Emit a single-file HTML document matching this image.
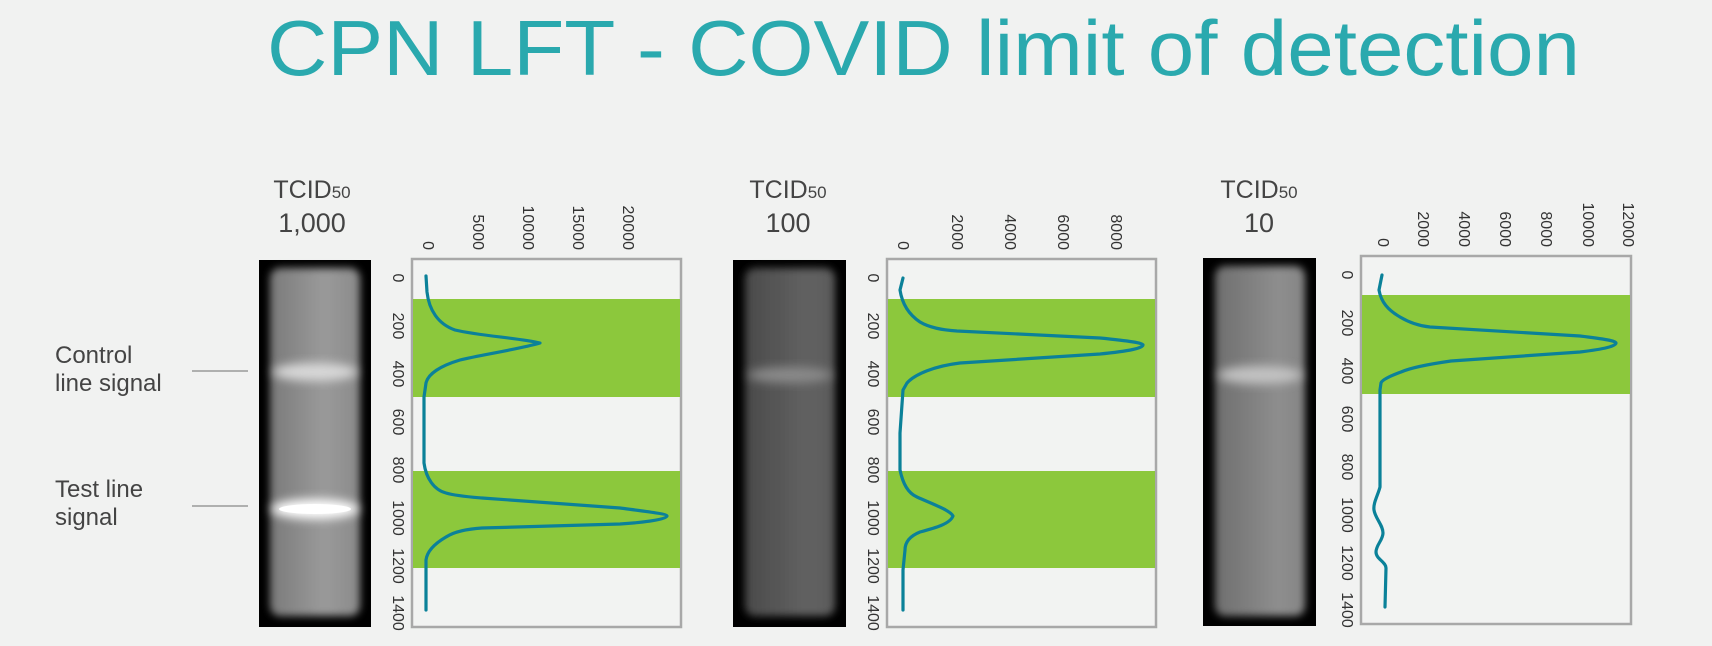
<!DOCTYPE html>
<html><head><meta charset="utf-8"><style>
html,body{margin:0;padding:0;background:#f1f2f1;}
svg{display:block}
text{font-family:"Liberation Sans",sans-serif;}
</style></head><body>
<svg width="1712" height="646" viewBox="0 0 1712 646" xmlns="http://www.w3.org/2000/svg">
<defs>
<filter id="bl" x="-20%" y="-20%" width="140%" height="140%"><feGaussianBlur stdDeviation="4"/></filter>
<filter id="bl2" x="-20%" y="-50%" width="140%" height="200%"><feGaussianBlur stdDeviation="5"/></filter>
<linearGradient id="g1" x1="0" x2="1"><stop offset="0" stop-color="#7a7a7a"/><stop offset="0.6" stop-color="#9a9a9a"/><stop offset="1" stop-color="#8a8a8a"/></linearGradient>
<linearGradient id="g2" x1="0" x2="1"><stop offset="0" stop-color="#4a4a4a"/><stop offset="0.7" stop-color="#626262"/><stop offset="1" stop-color="#5a5a5a"/></linearGradient>
<linearGradient id="g3" x1="0" x2="1"><stop offset="0" stop-color="#6e6e6e"/><stop offset="0.7" stop-color="#8e8e8e"/><stop offset="1" stop-color="#858585"/></linearGradient>
</defs>
<rect width="1712" height="646" fill="#f1f2f1"/>
<text x="267" y="75" font-size="78" fill="#2aa9ae" textLength="1313" lengthAdjust="spacingAndGlyphs">CPN LFT - COVID limit of detection</text>

<!-- side labels -->
<g fill="#444" font-size="24">
<text x="55" y="363">Control</text><text x="55" y="391">line signal</text>
<text x="55" y="497">Test line</text><text x="55" y="525">signal</text>
</g>
<line x1="192" y1="371" x2="248" y2="371" stroke="#999" stroke-width="1.5"/>
<line x1="192" y1="506" x2="248" y2="506" stroke="#999" stroke-width="1.5"/>

<!-- headers -->
<g fill="#444" text-anchor="middle">
<text x="312" y="198" font-size="25">TCID<tspan font-size="17">50</tspan></text><text x="312" y="232" font-size="27">1,000</text>
<text x="788" y="198" font-size="25">TCID<tspan font-size="17">50</tspan></text><text x="788" y="232" font-size="27">100</text>
<text x="1259" y="198" font-size="25">TCID<tspan font-size="17">50</tspan></text><text x="1259" y="232" font-size="27">10</text>
</g>

<!-- strips -->
<rect x="259" y="260" width="112" height="367" fill="#000"/>
<g filter="url(#bl)"><rect x="270" y="268" width="90" height="348" rx="10" fill="url(#g1)"/></g>
<ellipse cx="315" cy="372" rx="42" ry="9" fill="#d8d8d8" filter="url(#bl2)"/>
<ellipse cx="315" cy="509" rx="44" ry="10" fill="#fff" filter="url(#bl2)"/>
<ellipse cx="315" cy="509" rx="36" ry="5" fill="#fff"/>

<rect x="733" y="260" width="113" height="367" fill="#000"/>
<g filter="url(#bl)"><rect x="745" y="268" width="90" height="348" rx="10" fill="url(#g2)"/></g>
<ellipse cx="790" cy="375" rx="42" ry="8" fill="#8a8a8a" filter="url(#bl2)"/>

<rect x="1203" y="258" width="113" height="368" fill="#000"/>
<g filter="url(#bl)"><rect x="1215" y="266" width="90" height="350" rx="10" fill="url(#g3)"/></g>
<ellipse cx="1260" cy="375" rx="42" ry="9" fill="#c2c2c2" filter="url(#bl2)"/>

<!-- chart boxes -->
<rect x="412" y="259" width="269" height="368" fill="#f2f3f2" stroke="#a8a8a8" stroke-width="2.5"/>
<rect x="413" y="299" width="267" height="98" fill="#8cc83c"/>
<rect x="413" y="471" width="267" height="97" fill="#8cc83c"/>

<rect x="887" y="259" width="269" height="368" fill="#f2f3f2" stroke="#a8a8a8" stroke-width="2.5"/>
<rect x="888" y="299" width="267" height="98" fill="#8cc83c"/>
<rect x="888" y="471" width="267" height="97" fill="#8cc83c"/>

<rect x="1361" y="256" width="270" height="368" fill="#f2f3f2" stroke="#a8a8a8" stroke-width="2.5"/>
<rect x="1362" y="295" width="268" height="99" fill="#8cc83c"/>

<!-- curves -->
<g fill="none" stroke="#0b8199" stroke-width="3.2" stroke-linejoin="round" stroke-linecap="round">
<path d="M426,276 L427,292 C429,310 438,324 455,330 C480,336 520,338 540,343 C520,349 480,355 460,360 C440,366 428,374 426,383 L424,397 L424,463 C426,478 434,490 446,493 C456,496 470,497 482,498 L620,508 C650,512 667,514 667,516 C667,519 650,522 620,524 L482,528 C468,529 455,531 446,537 C434,544 427,552 426,560 L426,610"/>
<path d="M903,278 L900,290 C902,303 908,314 920,322 C930,328 943,330 957,331 L1100,338 C1130,341 1143,343 1143,345 C1143,348 1130,351 1100,354 L960,363 C935,366 915,374 907,383 L903,390 L900,433 L900,470 C903,484 908,493 917,497 C930,503 950,510 953,516 C950,524 935,528 920,532 C910,536 905,542 905,550 L903,570 L903,610"/>
<path d="M1382,275 L1379,290 C1381,302 1388,310 1400,317 C1410,323 1420,326 1430,327 L1580,336 C1605,339 1616,341 1616,343 C1616,346 1605,349 1580,352 L1451,361 C1430,364 1410,368 1401,372 C1390,376 1382,380 1381,383 L1380,390 L1380,487 C1378,495 1373,503 1374,510 C1375,518 1383,525 1383,533 C1383,540 1376,545 1376,552 C1376,559 1386,562 1386,568 L1385,607"/>
</g>

<!-- tick labels -->
<g fill="#333" font-size="16" text-anchor="middle">
<!-- y panel1 x=398 -->
<g transform="translate(398,0)">
<text transform="translate(0,278) rotate(90)" dy="5">0</text>
<text transform="translate(0,326) rotate(90)" dy="5">200</text>
<text transform="translate(0,374) rotate(90)" dy="5">400</text>
<text transform="translate(0,422) rotate(90)" dy="5">600</text>
<text transform="translate(0,470) rotate(90)" dy="5">800</text>
<text transform="translate(0,518) rotate(90)" dy="5">1000</text>
<text transform="translate(0,566) rotate(90)" dy="5">1200</text>
<text transform="translate(0,613) rotate(90)" dy="5">1400</text>
</g>
<g transform="translate(873,0)">
<text transform="translate(0,278) rotate(90)" dy="5">0</text>
<text transform="translate(0,326) rotate(90)" dy="5">200</text>
<text transform="translate(0,374) rotate(90)" dy="5">400</text>
<text transform="translate(0,422) rotate(90)" dy="5">600</text>
<text transform="translate(0,470) rotate(90)" dy="5">800</text>
<text transform="translate(0,518) rotate(90)" dy="5">1000</text>
<text transform="translate(0,566) rotate(90)" dy="5">1200</text>
<text transform="translate(0,613) rotate(90)" dy="5">1400</text>
</g>
<g transform="translate(1347,-3)">
<text transform="translate(0,278) rotate(90)" dy="5">0</text>
<text transform="translate(0,326) rotate(90)" dy="5">200</text>
<text transform="translate(0,374) rotate(90)" dy="5">400</text>
<text transform="translate(0,422) rotate(90)" dy="5">600</text>
<text transform="translate(0,470) rotate(90)" dy="5">800</text>
<text transform="translate(0,518) rotate(90)" dy="5">1000</text>
<text transform="translate(0,566) rotate(90)" dy="5">1200</text>
<text transform="translate(0,613) rotate(90)" dy="5">1400</text>
</g>
</g>
<g fill="#333" font-size="16" text-anchor="end">
<text transform="translate(428,250) rotate(90)" dy="5">0</text>
<text transform="translate(478,250) rotate(90)" dy="5">5000</text>
<text transform="translate(528,250) rotate(90)" dy="5">10000</text>
<text transform="translate(578,250) rotate(90)" dy="5">15000</text>
<text transform="translate(628,250) rotate(90)" dy="5">20000</text>

<text transform="translate(903,250) rotate(90)" dy="5">0</text>
<text transform="translate(957,250) rotate(90)" dy="5">2000</text>
<text transform="translate(1010,250) rotate(90)" dy="5">4000</text>
<text transform="translate(1063,250) rotate(90)" dy="5">6000</text>
<text transform="translate(1116,250) rotate(90)" dy="5">8000</text>

<text transform="translate(1383,247) rotate(90)" dy="5">0</text>
<text transform="translate(1423,247) rotate(90)" dy="5">2000</text>
<text transform="translate(1464,247) rotate(90)" dy="5">4000</text>
<text transform="translate(1505,247) rotate(90)" dy="5">6000</text>
<text transform="translate(1546,247) rotate(90)" dy="5">8000</text>
<text transform="translate(1588,247) rotate(90)" dy="5">10000</text>
<text transform="translate(1628,247) rotate(90)" dy="5">12000</text>
</g>
</svg>
</body></html>
